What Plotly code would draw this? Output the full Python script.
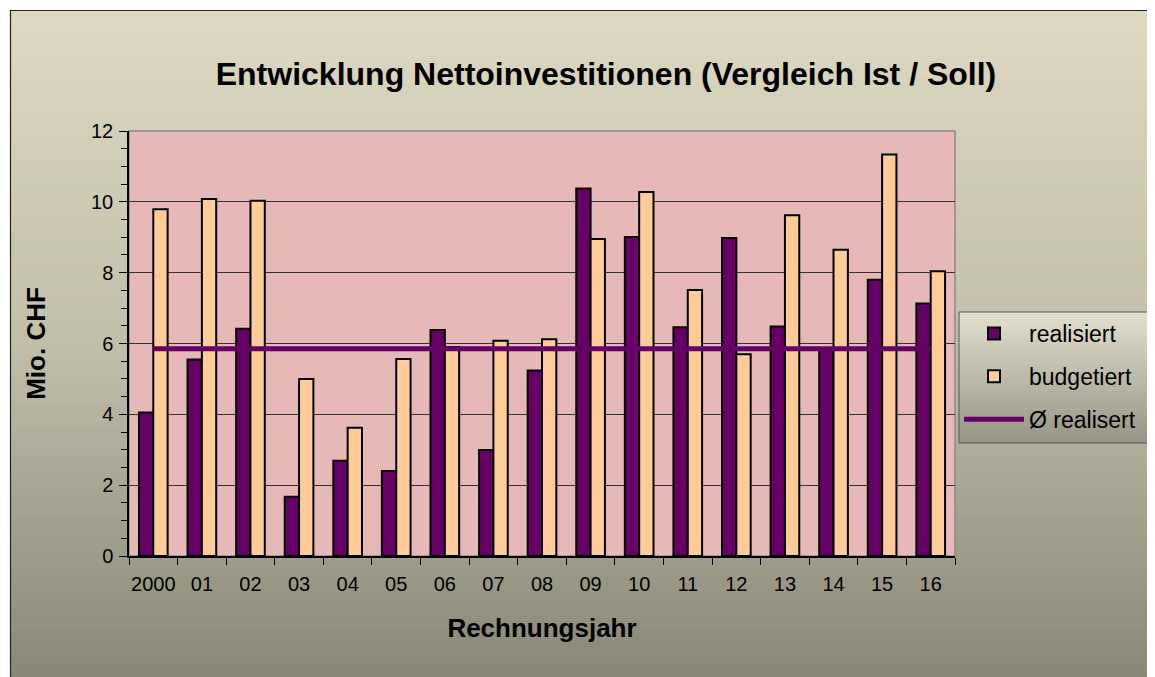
import plotly.graph_objects as go

# ---- data ----
years = ["2000", "01", "02", "03", "04", "05", "06", "07", "08",
         "09", "10", "11", "12", "13", "14", "15", "16"]
realisiert = [4.05, 5.55, 6.42, 1.67, 2.69, 2.40, 6.38, 2.99, 5.24,
              10.38, 9.01, 6.46, 8.98, 6.48, 5.85, 7.80, 7.13]
budgetiert = [9.79, 10.08, 10.03, 5.00, 3.62, 5.56, 5.90, 6.08, 6.12,
              8.95, 10.28, 7.51, 5.70, 9.62, 8.65, 11.34, 8.04]
avg_realisiert = [5.85, 5.85, 5.85, 5.85, 5.85, 5.85, 5.85, 5.85, 5.85,
                  5.85, 5.85, 5.85, 5.85, 5.85, 5.85, 5.85, 5.85]

# page body adds an 8px offset; work in screenshot pixels and convert
OFF = 8
W, H = 1155 - OFF, 677 - OFF
PL, PR, PT, PB = 129, 955, 131, 556          # plot area in screenshot pixels
ML, MR, MT, MB = PL - OFF, W - (PR - OFF), PT - OFF, H - (PB - OFF)
PW, PH = PR - PL, PB - PT

def px_x(p):
    return (p - PL) / PW

def px_y(p):
    return (PB - p) / PH

FONT = "Liberation Sans, Arial, sans-serif"
PURPLE = "#660066"
PEACH = "#FFCC99"
PINK = "#E6B8B8"

fig = go.Figure()
fig.add_trace(go.Bar(name="realisiert", x=years, y=realisiert, legendgroup="a",
                     marker=dict(color=PURPLE, line=dict(color="black", width=2))))
fig.add_trace(go.Bar(name="budgetiert", x=years, y=budgetiert, legendgroup="b",
                     marker=dict(color=PEACH, line=dict(color="black", width=2))))
fig.add_trace(go.Scatter(name="Ø realisert", x=years, y=avg_realisiert, mode="lines",
                         legendgroup="c", line=dict(color=PURPLE, width=5)))

def lerp(c1, c2, t):
    return tuple(round(a + (b - a) * t) for a, b in zip(c1, c2))

def grad(stops, t):
    for (t0, c0), (t1, c1) in zip(stops, stops[1:]):
        if t <= t1:
            return lerp(c0, c1, (t - t0) / (t1 - t0))
    return stops[-1][1]

shapes = []

def gradient_box(x0, x1, y0, y1, stops, n):
    for i in range(n):
        a = y0 + (y1 - y0) * i / n
        b = y0 + (y1 - y0) * (i + 1) / n + 0.8
        c = grad(stops, (i + 0.5) / n)
        shapes.append(dict(type="rect", xref="paper", yref="paper", layer="below",
                           x0=px_x(x0), x1=px_x(x1), y0=px_y(a), y1=px_y(min(b, y1)),
                           fillcolor="rgb(%d,%d,%d)" % c, line=dict(width=0)))

# chart-area background gradient
gradient_box(10, 1160, 10, 680,
             [(0.0, (221, 217, 194)), (0.5, (193, 190, 169)), (1.0, (136, 135, 118))], 90)
# legend-box gradient + frame
LX0, LX1, LY0, LY1 = 959, 1153, 312, 443
gradient_box(LX0, LX1, LY0, LY1,
             [(0.0, (226, 223, 206)), (1.0, (150, 148, 132))], 20)
shapes.append(dict(type="rect", xref="paper", yref="paper", layer="below",
                   x0=px_x(LX0), x1=px_x(LX1), y0=px_y(LY0), y1=px_y(LY1),
                   fillcolor="rgba(0,0,0,0)", line=dict(color="#555", width=1)))
# outer border
shapes.append(dict(type="rect", xref="paper", yref="paper", layer="below",
                   x0=px_x(10.5), x1=px_x(1200), y0=px_y(10.5), y1=px_y(720),
                   fillcolor="rgba(0,0,0,0)", line=dict(color="#222", width=1.2)))
# plot area
shapes.append(dict(type="rect", xref="x domain", yref="y domain", layer="below",
                   x0=0, x1=1, y0=0, y1=1, fillcolor=PINK,
                   line=dict(color="#8a8a8a", width=1.5)))

fig.update_layout(
    width=W, height=H,
    margin=dict(l=ML, r=MR, t=MT, b=MB, pad=0),
    paper_bgcolor="white",
    plot_bgcolor=PINK,
    font=dict(family=FONT, color="black", size=20),
    title=dict(text="<b>Entwicklung Nettoinvestitionen (Vergleich Ist / Soll)</b>",
               x=px_x(606), xref="paper", xanchor="center",
               y=1 - (74 - OFF) / H, yref="container", yanchor="middle",
               font=dict(size=32, family=FONT)),
    barmode="group", bargap=0.41, bargroupgap=0,
    showlegend=True,
    legend=dict(x=px_x(LX0), y=px_y(LY0), xanchor="left", yanchor="top",
                bgcolor="rgba(0,0,0,0)", borderwidth=0,
                font=dict(size=23, family=FONT), itemwidth=60,
                traceorder="grouped", tracegroupgap=10),
    shapes=shapes,
)
fig.update_xaxes(type="category", tickson="boundaries", ticks="outside", ticklen=7,
                 tickcolor="black", showline=True, linecolor="black", linewidth=1.5,
                 showgrid=False, tickfont=dict(size=20), tickangle=0,
                 ticklabelstandoff=9,
                 title=dict(text="<b>Rechnungsjahr</b>", font=dict(size=26), standoff=25))
fig.update_yaxes(range=[0, 12], dtick=2, ticks="outside", ticklen=8, tickcolor="black",
                 showline=True, linecolor="black", linewidth=1.5,
                 showgrid=True, gridcolor="#333", gridwidth=1, zeroline=False,
                 tickfont=dict(size=20), ticklabelstandoff=2,
                 minor=dict(dtick=0.5, ticks="outside", ticklen=6, tickcolor="black",
                            showgrid=False),
                 title=dict(text="<b>Mio. CHF</b>", font=dict(size=26), standoff=38))

fig.write_html("out.html")
